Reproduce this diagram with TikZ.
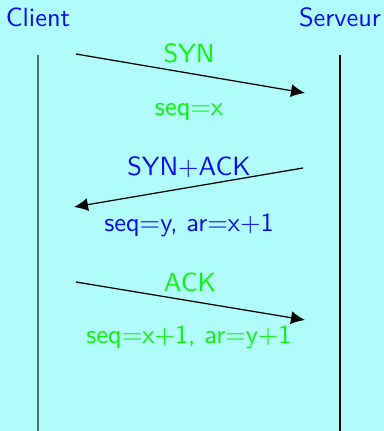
\documentclass[tikz,border=0pt]{standalone}
\usepackage{tikz}
\usetikzlibrary{arrows.meta}
\definecolor{bgcyan}{RGB}{176,252,250}
\definecolor{lifegray}{RGB}{80,108,112}
\definecolor{msgblue}{RGB}{10,10,255}
\definecolor{msggreen}{RGB}{10,245,10}

\begin{document}
\begin{tikzpicture}[
  x=0.4pt, y=-0.4pt,
  font=\sffamily\fontsize{10.55pt}{12.5pt}\selectfont,
  actor/.style={anchor=base, text=msgblue, inner sep=0pt},
  bluelbl/.style={anchor=base, text=msgblue, inner sep=0pt},
  greenlbl/.style={anchor=base, text=msggreen, inner sep=0pt},
  msg/.style={-{Latex[length=5.6pt,width=5.2pt]}, line width=0.5pt, black},
  life/.style={line width=0.55pt}
]
  % background and page size
  \fill[bgcyan] (0,0) rectangle (384,431);
  \useasboundingbox (0,0) rectangle (384,431);

  % the two parties
  \node[actor] (client) at (38,27) {Client};
  \node[actor] (server) at (340,27) {Serveur};

  \coordinate (client-top) at (38,55);
  \coordinate (client-bot) at (38,431);
  \coordinate (server-top) at (340,55);
  \coordinate (server-bot) at (340,431);
  \draw[life, lifegray, line width=0.8pt] (client-top) -- (client-bot);
  \draw[life] (server-top) -- (server-bot);

  % end points of the messages
  \coordinate (syn-a) at (76,54);
  \coordinate (syn-b) at (305,93);
  \coordinate (synack-a) at (303,168);
  \coordinate (synack-b) at (74,207);
  \coordinate (ack-a) at (76,282);
  \coordinate (ack-b) at (305,320);

  \draw[msg] (syn-a) -- (syn-b);
  \draw[msg] (synack-a) -- (synack-b);
  \draw[msg] (ack-a) -- (ack-b);

  % labels
  \node[greenlbl] (syn) at (189,63) {SYN};
  \node[greenlbl] (syn-seq) at (189,116) {seq=x};
  \node[bluelbl] (synack) at (189,176) {SYN+ACK};
  \node[bluelbl] (synack-seq) at (189,231) {seq=y, ar=x+1};
  \node[greenlbl] (ack) at (190,291) {ACK};
  \node[greenlbl] (ack-seq) at (189,343) {seq=x+1, ar=y+1};
\end{tikzpicture}
\end{document}
